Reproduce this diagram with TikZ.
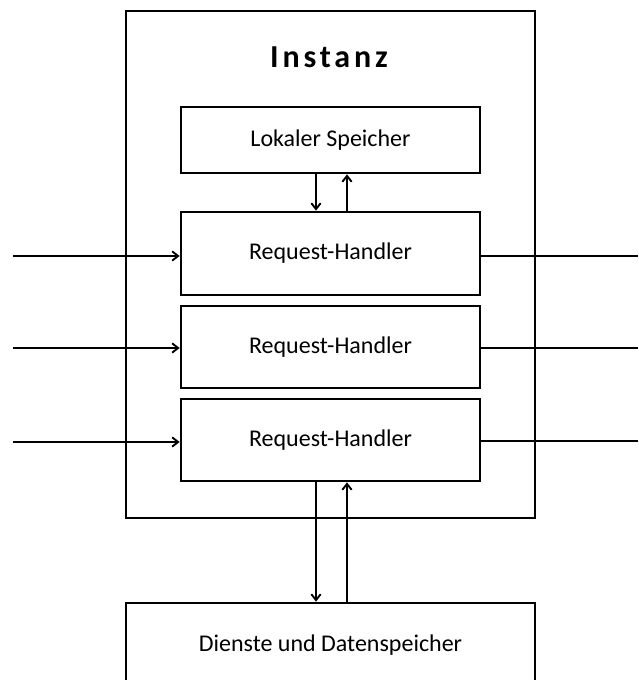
\documentclass[tikz,border=0pt]{standalone}
\usepackage{fontspec}
\setmainfont{Carlito}
\usetikzlibrary{arrows.meta}
\begin{document}
\begin{tikzpicture}[x=0.75pt,y=-0.75pt,
  box/.style={draw,line width=2pt,rectangle,inner sep=0pt,font=\fontsize{18}{22}\selectfont},
  arr/.style={line width=1.4pt,-{Straight Barb[length=4.5pt,width=7pt,line width=1.4pt]}},
  plain/.style={line width=1.4pt}]
\useasboundingbox (0,0) rectangle (638,680);
% outer instance box
\node[box,minimum width={409*0.75pt},minimum height={507*0.75pt}] (inst) at (330.5,264.5) {};
\node[font=\fontsize{24}{28}\selectfont\bfseries\addfontfeature{LetterSpace=12}] (title) at (329,57) {Instanz};
% inner boxes
\node[box,minimum width={299*0.75pt},minimum height={66*0.75pt}] (ls) at (330.5,140) {Lokaler Speicher};
\node[box,minimum width={299*0.75pt},minimum height={83*0.75pt}] (rh1) at (330.5,253.5) {Request-Handler};
\node[box,minimum width={299*0.75pt},minimum height={82*0.75pt}] (rh2) at (330.5,347) {Request-Handler};
\node[box,minimum width={299*0.75pt},minimum height={82*0.75pt}] (rh3) at (330.5,440) {Request-Handler};
\node[box,minimum width={409*0.75pt},minimum height={84*0.75pt}] (ds) at (330.5,645) {Dienste und Datenspeicher};
% coordinates
\coordinate (dx) at (316,0);
\coordinate (ux) at (347,0);
\coordinate (in1) at (13,256);
\coordinate (in2) at (13,348);
\coordinate (in3) at (13,442);
\coordinate (out1) at (638,256);
\coordinate (out2) at (638,348);
\coordinate (out3) at (638,441);
% vertical arrows
\draw[arr] (ls.south -| dx) -- (rh1.north -| dx);
\draw[arr] (rh1.north -| ux) -- (ls.south -| ux);
\draw[arr] (rh3.south -| dx) -- (ds.north -| dx);
\draw[arr] (ds.north -| ux) -- (rh3.south -| ux);
% input arrows
\draw[arr] (in1) -- (in1 -| rh1.west);
\draw[arr] (in2) -- (in2 -| rh2.west);
\draw[arr] (in3) -- (in3 -| rh3.west);
% output lines
\draw[plain] (out1 -| rh1.east) -- (out1);
\draw[plain] (out2 -| rh2.east) -- (out2);
\draw[plain] (out3 -| rh3.east) -- (out3);
\end{tikzpicture}
\end{document}
